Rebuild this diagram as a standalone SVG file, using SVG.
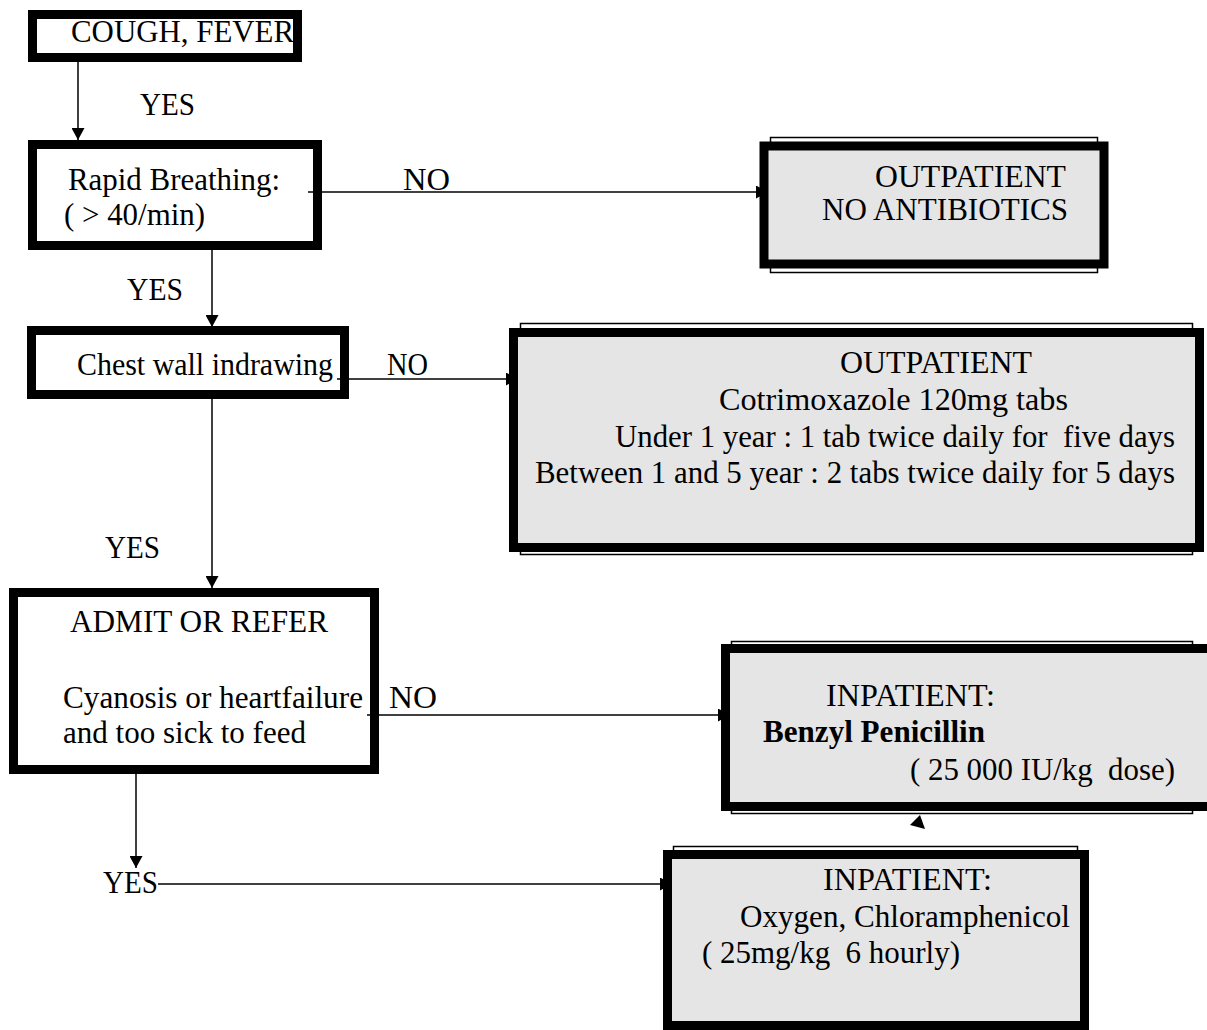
<svg xmlns="http://www.w3.org/2000/svg" width="1207" height="1030" viewBox="0 0 1207 1030">
<style>
text{font-family:"Liberation Serif","Times New Roman",serif;font-size:31px;fill:#000;white-space:pre}
.b{font-weight:bold}
.wbox{fill:none;stroke:#000;stroke-width:9}
.gbox{fill:#e5e5e5;stroke:#000;stroke-width:9}
.frame{fill:none;stroke:#000;stroke-width:1.5}
.conn{fill:none;stroke:#000;stroke-width:1.5}
</style>
<defs>
<marker id="ah" markerUnits="userSpaceOnUse" markerWidth="13" markerHeight="13" refX="12" refY="6.5" orient="auto">
<path d="M0,0 L12,6.5 L0,13 z" fill="#000"/>
</marker>
</defs>
<rect width="1207" height="1030" fill="#fff"/>
<g id="connectors">
<line class="conn" x1="78" y1="62" x2="78" y2="140" marker-end="url(#ah)"/>
<line class="conn" x1="308" y1="192" x2="768" y2="192" marker-end="url(#ah)"/>
<line class="conn" x1="212" y1="250" x2="212" y2="327" marker-end="url(#ah)"/>
<line class="conn" x1="337" y1="379" x2="518" y2="379" marker-end="url(#ah)"/>
<line class="conn" x1="212" y1="399" x2="212" y2="588" marker-end="url(#ah)"/>
<line class="conn" x1="367" y1="715" x2="730" y2="715" marker-end="url(#ah)"/>
<line class="conn" x1="136" y1="774" x2="136" y2="868" marker-end="url(#ah)"/>
<line class="conn" x1="158" y1="884" x2="672" y2="884" marker-end="url(#ah)"/>
<polygon points="920,815 910,825 925,829" fill="#000"/>
<text x="140" y="115" textLength="55" lengthAdjust="spacingAndGlyphs">YES</text>
<text x="403" y="190" textLength="47" lengthAdjust="spacingAndGlyphs">NO</text>
<text x="127" y="300" textLength="56" lengthAdjust="spacingAndGlyphs">YES</text>
<text x="387" y="375" textLength="41" lengthAdjust="spacingAndGlyphs">NO</text>
<text x="105" y="558" textLength="55" lengthAdjust="spacingAndGlyphs">YES</text>
<text x="389" y="708" textLength="48" lengthAdjust="spacingAndGlyphs">NO</text>
<text x="103" y="893" textLength="55" lengthAdjust="spacingAndGlyphs">YES</text>
</g>
<g id="n1">
<rect class="wbox" x="32.5" y="14.5" width="265" height="43"/>
<text x="71" y="42" textLength="223" lengthAdjust="spacingAndGlyphs">COUGH, FEVER</text>
</g>
<g id="n2">
<rect class="wbox" x="32.5" y="144.5" width="285" height="101"/>
<text x="68" y="190" textLength="212" lengthAdjust="spacingAndGlyphs">Rapid Breathing:</text>
<text x="64" y="225" textLength="141" lengthAdjust="spacingAndGlyphs">( &gt; 40/min)</text>
</g>
<g id="n3">
<rect class="frame" x="770.5" y="137.5" width="327" height="135"/>
<rect class="gbox" x="764" y="146" width="340" height="118"/>
<text x="875" y="187" textLength="191" lengthAdjust="spacingAndGlyphs">OUTPATIENT</text>
<text x="822" y="220" textLength="246" lengthAdjust="spacingAndGlyphs">NO ANTIBIOTICS</text>
</g>
<g id="n4">
<rect class="wbox" x="31.5" y="330.5" width="313" height="64"/>
<text x="77" y="375" textLength="256" lengthAdjust="spacingAndGlyphs">Chest wall indrawing</text>
</g>
<g id="n5">
<rect class="frame" x="520.5" y="323.5" width="672" height="231"/>
<rect class="gbox" x="513.5" y="332.5" width="686" height="215"/>
<text x="840" y="373" textLength="192" lengthAdjust="spacingAndGlyphs">OUTPATIENT</text>
<text x="719" y="410" textLength="349" lengthAdjust="spacingAndGlyphs">Cotrimoxazole 120mg tabs</text>
<text x="615" y="447" textLength="560" lengthAdjust="spacingAndGlyphs">Under 1 year : 1 tab twice daily for  five days</text>
<text x="535" y="483" textLength="640" lengthAdjust="spacingAndGlyphs">Between 1 and 5 year : 2 tabs twice daily for 5 days</text>
</g>
<g id="n6">
<rect class="wbox" x="13.5" y="592.5" width="361" height="177"/>
<text x="70" y="632" textLength="258" lengthAdjust="spacingAndGlyphs">ADMIT OR REFER</text>
<text x="63" y="708" textLength="300" lengthAdjust="spacingAndGlyphs">Cyanosis or heartfailure</text>
<text x="63" y="743" textLength="243" lengthAdjust="spacingAndGlyphs">and too sick to feed</text>
</g>
<g id="n7">
<rect class="frame" x="731.5" y="641.5" width="461" height="172"/>
<rect class="gbox" x="725.5" y="648.5" width="674" height="158"/>
<text x="826" y="706" textLength="169" lengthAdjust="spacingAndGlyphs">INPATIENT:</text>
<text class="b" x="763" y="742" textLength="222" lengthAdjust="spacingAndGlyphs">Benzyl Penicillin</text>
<text x="910" y="780" textLength="265" lengthAdjust="spacingAndGlyphs">( 25 000 IU/kg  dose)</text>
</g>
<g id="n8">
<rect class="frame" x="673.5" y="846.5" width="404" height="190"/>
<rect class="gbox" x="667.5" y="854.5" width="417" height="171"/>
<text x="823" y="890" textLength="169" lengthAdjust="spacingAndGlyphs">INPATIENT:</text>
<text x="740" y="927" textLength="330" lengthAdjust="spacingAndGlyphs">Oxygen, Chloramphenicol</text>
<text x="702" y="963" textLength="258" lengthAdjust="spacingAndGlyphs">( 25mg/kg  6 hourly)</text>
</g>
</svg>
